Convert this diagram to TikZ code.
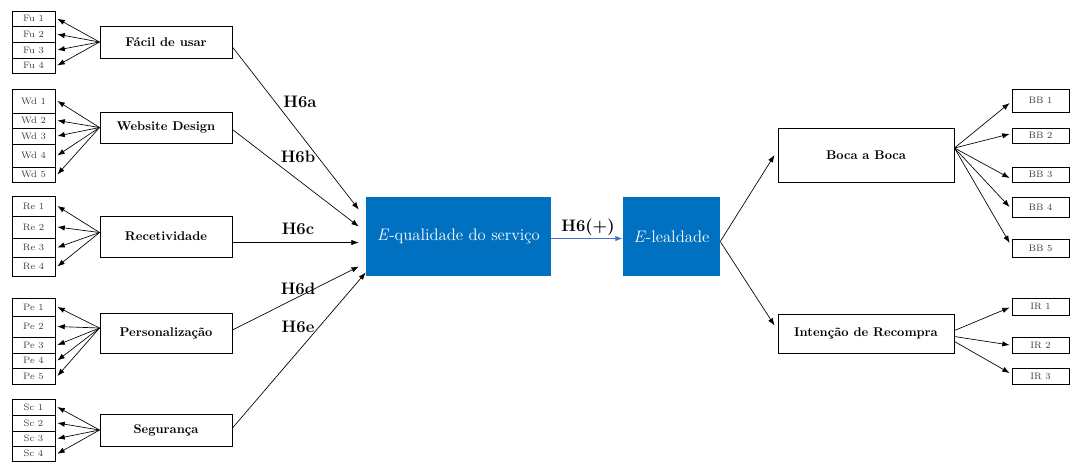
\documentclass[tikz,border=0pt]{standalone}
\usetikzlibrary{arrows.meta,calc}
\definecolor{qblue}{RGB}{0,112,192}
\definecolor{lblue}{RGB}{68,114,196}
\definecolor{itemgray}{RGB}{60,60,60}
\tikzset{
  arr/.style={-{Latex[length=5.5pt,width=4pt]}, line width=0.5pt},
  blarr/.style={-{Latex[length=5.5pt,width=4pt]}, line width=0.8pt, draw=lblue},
  cell/.style={draw, line width=0.6pt, inner sep=0pt, text=itemgray,
    font=\fontsize{7}{8}\selectfont},
  construct/.style={draw, line width=0.7pt, inner sep=0pt,
    font=\bfseries\fontsize{9.5}{11}\selectfont},
  core/.style={fill=qblue, inner sep=0pt, text=white,
    font=\fontsize{12.5}{14}\selectfont},
  hyp/.style={font=\bfseries\fontsize{12.5}{14}\selectfont},
}
% indicator cell: name, x-centre, width, top, bottom, text
\newcommand{\cellat}[6]{%
  \node[cell, minimum width=#3*0.75pt, minimum height=(#5-#4)*0.75pt]
    (#1) at (#2,{(#4+#5)/2}) {#6};}
% construct box: name, left, right, top, bottom, text
\newcommand{\boxat}[6]{%
  \node[construct, minimum width=(#3-#2)*0.75pt, minimum height=(#5-#4)*0.75pt]
    (#1) at ({(#2+#3)/2},{(#4+#5)/2}) {#6};}
\begin{document}
\begin{tikzpicture}[x=0.75pt,y=-0.75pt]
\useasboundingbox (0,0) rectangle (1071,462);

% ---- exogenous constructs ----
\boxat{fu}{100}{232}{26}{58}{Fácil de usar}
\boxat{wd}{100}{232}{112}{143}{Website Design}
\boxat{re}{100}{232}{216}{257}{Recetividade}
\boxat{pe}{100}{232}{313}{353}{Personalização}
\boxat{sc}{100}{232}{414}{446}{Segurança}

% ---- indicators, left ----
\cellat{fu1}{33.5}{43}{11}{26.5}{Fu 1}
\cellat{fu2}{33.5}{43}{26.5}{42}{Fu 2}
\cellat{fu3}{33.5}{43}{42}{58}{Fu 3}
\cellat{fu4}{33.5}{43}{58}{73}{Fu 4}

\cellat{wd1}{33.5}{43}{89}{113}{Wd 1}
\cellat{wd2}{33.5}{43}{113}{128}{Wd 2}
\cellat{wd3}{33.5}{43}{128}{144}{Wd 3}
\cellat{wd4}{33.5}{43}{144}{167}{Wd 4}
\cellat{wd5}{33.5}{43}{167}{182}{Wd 5}

\cellat{re1}{33.5}{43}{196}{216}{Re 1}
\cellat{re2}{33.5}{43}{216}{238}{Re 2}
\cellat{re3}{33.5}{43}{238}{257}{Re 3}
\cellat{re4}{33.5}{43}{257}{276}{Re 4}

\cellat{pe1}{33.5}{43}{298}{316}{Pe 1}
\cellat{pe2}{33.5}{43}{316}{337}{Pe 2}
\cellat{pe3}{33.5}{43}{337}{353}{Pe 3}
\cellat{pe4}{33.5}{43}{353}{368}{Pe 4}
\cellat{pe5}{33.5}{43}{368}{384}{Pe 5}

\cellat{sc1}{33.5}{43}{399}{415}{Sc 1}
\cellat{sc2}{33.5}{43}{415}{431}{Sc 2}
\cellat{sc3}{33.5}{43}{431}{446}{Sc 3}
\cellat{sc4}{33.5}{43}{446}{461.5}{Sc 4}

% ---- loadings, left ----
\foreach \i in {1,...,4} \draw[arr] (fu.west) -- ([xshift=1.5pt]fu\i.east);
\foreach \i in {1,...,5} \draw[arr] (wd.west) -- ([xshift=1.5pt]wd\i.east);
\foreach \i in {1,...,4} \draw[arr] ($(re.west)+(0,-4)$) -- ([xshift=1.5pt]re\i.east);
\foreach \i in {1,...,5} \draw[arr] ($(pe.west)+(0,-5)$) -- ([xshift=1.5pt]pe\i.east);
\foreach \i in {1,...,4} \draw[arr] (sc.west) -- ([xshift=1.5pt]sc\i.east);

% ---- core constructs ----
\node[core, minimum width=185*0.75pt, minimum height=79*0.75pt] (eq)
  at (458.5,236.5) {\textit{E}-qualidade do serviço};
\node[core, minimum width=97*0.75pt, minimum height=79*0.75pt] (el)
  at (671.5,236.5) {\textit{E}-lealdade};

% ---- structural paths ----
\draw[arr] ($(fu.east)+(0,5)$) -- ($(eq.west)+(-7,-27)$);
\draw[arr] ($(wd.east)+(0,2)$) -- ($(eq.west)+(-7,-10)$);
\draw[arr] ($(re.east)+(0,6)$) -- ($(eq.west)+(-7,6)$);
\draw[arr] ($(pe.east)+(0,-3)$) -- ($(eq.west)+(-7,30)$);
\draw[arr] ($(sc.east)+(0,-2)$) -- ($(eq.west)+(0,36)$);

\node[hyp] (h6a) at (300,102) {H6a};
\node[hyp] (h6b) at (298,157) {H6b};
\node[hyp] (h6c) at (298,229) {H6c};
\node[hyp] (h6d) at (298,289) {H6d};
\node[hyp] (h6e) at (298,327) {H6e};

\draw[blarr] ($(eq.east)+(0,2)$) -- ($(el.west)+(0,2)$);
\node[hyp] (h6p) at (588,227) {H6(+)};

% ---- outcome constructs ----
\boxat{bb}{778}{954}{128}{182}{Boca a Boca}
\boxat{ir}{778}{954}{314}{353}{Intenção de Recompra}

\draw[arr] ($(el.east)+(0,5)$) -- ($(bb.west)+(-3,0)$);
\draw[arr] ($(el.east)+(0,5)$) -- ($(ir.west)+(-3,-8)$);

% ---- indicators, right ----
\cellat{bb1}{1040.5}{57}{89}{112}{BB 1}
\cellat{bb2}{1040.5}{57}{128}{143}{BB 2}
\cellat{bb3}{1040.5}{57}{167}{182}{BB 3}
\cellat{bb4}{1040.5}{57}{197}{217}{BB 4}
\cellat{bb5}{1040.5}{57}{239}{257}{BB 5}
\cellat{ir1}{1040.5}{57}{298}{315}{IR 1}
\cellat{ir2}{1040.5}{57}{337}{353}{IR 2}
\cellat{ir3}{1040.5}{57}{368}{384}{IR 3}

% ---- loadings, right ----
\foreach \i/\dy in {1/2.5,2/-1.5,3/3.5,4/0,5/-5}
  \draw[arr] ($(bb.east)+(0,-7)$) -- ($(bb\i.west)+(-2,\dy)$);
\draw[arr] ($(ir.east)+(0,-3)$) -- ($(ir1.west)+(-2,1)$);
\draw[arr] ($(ir.east)+(0,3)$)  -- ($(ir2.west)+(-2,0)$);
\draw[arr] ($(ir.east)+(0,8)$)  -- ($(ir3.west)+(-2,-3)$);
\end{tikzpicture}
\end{document}
